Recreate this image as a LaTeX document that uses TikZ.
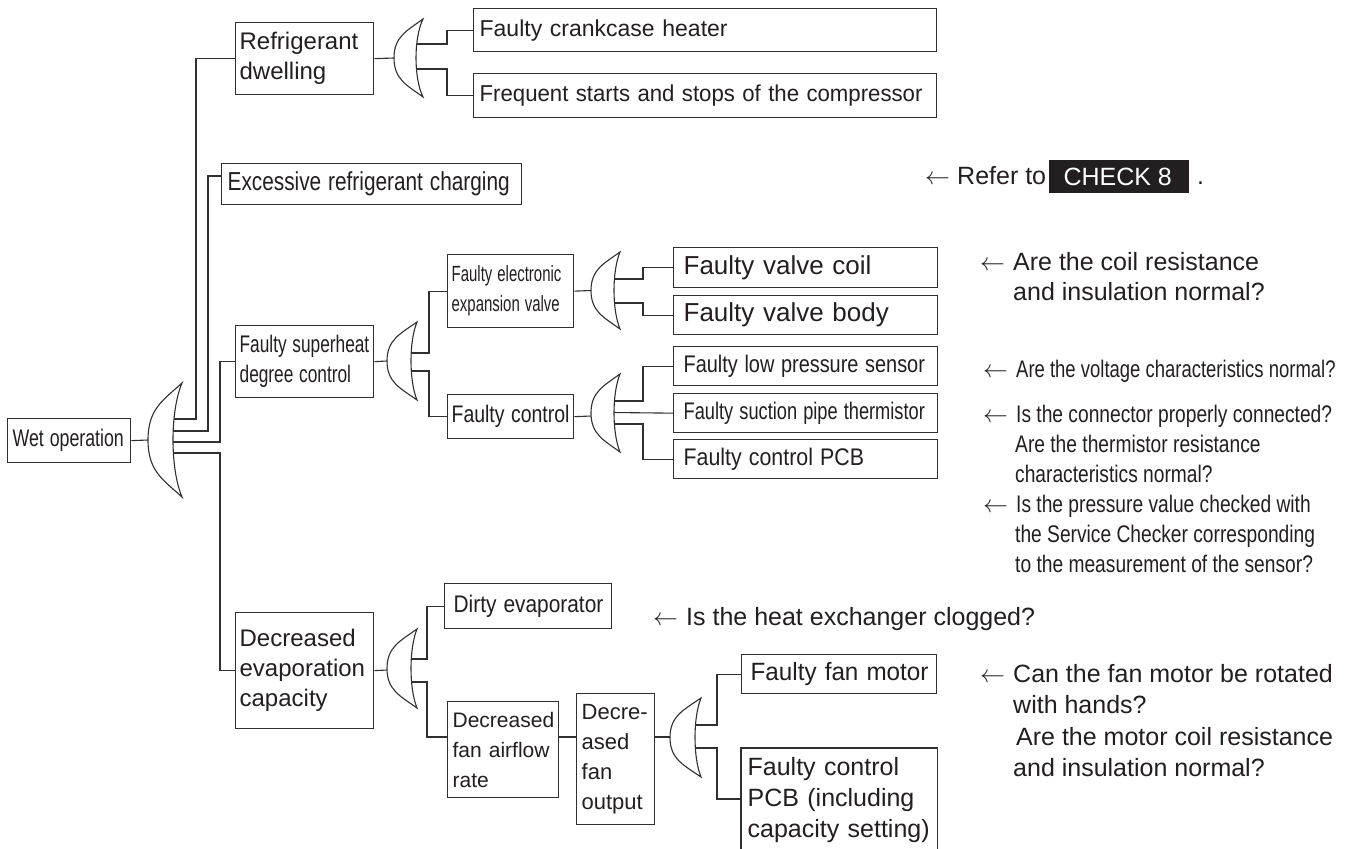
\documentclass[tikz,border=0pt]{standalone}
\usepackage{fontspec}
\setmainfont{Liberation Sans}
\usepackage{graphicx}
\definecolor{ink}{HTML}{231F20}
\definecolor{edge}{HTML}{303030}
\newcommand\sx[2]{\scalebox{#1}[1]{#2}}
\newcommand\fz[2]{\fontsize{#1}{#2}\selectfont}
\newcommand\orgate[5]{% xl, xi, xt, yt, yb
  \pgfmathsetmacro\gym{(#4+#5)/2}%
  \pgfmathsetmacro\gh{(#5-#4)/2}%
  \pgfmathsetmacro\gw{#3-#1}%
  \pgfmathsetmacro\gc{#2-(#3-#2)/3}%
  \draw[gateline] (#3,#4) .. controls ({#3-0.55*\gw},{#4+0.3*\gh}) and (#1,{\gym-0.55*\gh}) .. (#1,\gym)
    .. controls (#1,{\gym+0.55*\gh}) and ({#3-0.55*\gw},{#5-0.3*\gh}) .. (#3,#5)
    .. controls (\gc,{\gym+0.5*\gh}) and (\gc,{\gym-0.5*\gh}) .. cycle;
}
\begin{document}
\begin{tikzpicture}[x=1pt,y=-1pt,
  bx/.style={draw=edge, line width=1.3pt, anchor=north west, inner xsep=5pt, inner ysep=0pt, align=left, text=ink},
  wire/.style={draw=edge, line width=1.1pt},
  gateline/.style={draw=edge, line width=1.1pt, fill=white, line join=miter},
  note/.style={anchor=base west, inner sep=0pt, text=ink},
]
\useasboundingbox[fill=white] (0,0) rectangle (1353,849);

% ---------- boxes ----------
\node[bx, text width=113pt, minimum height=44pt, font=\fz{24}{30}] (wet) at (7,418) {\sx{0.74}{Wet operation}};
\node[bx, inner xsep=4pt, text width=130pt, minimum height=72pt, font=\fz{24}{30}] (refd) at (235,22) {\mbox{Refrigerant}\\\mbox{dwelling}};
\node[bx, inner xsep=6pt, text width=451pt, minimum height=43pt, font=\fz{23}{28}] (crank) at (473,8) {\mbox{Faulty crankcase heater}};
\node[bx, inner xsep=6pt, text width=451pt, minimum height=44pt, font=\fz{23}{28}] (freq) at (473,73) {\sx{0.965}{Frequent starts and stops of the compressor}};
\node[bx, inner xsep=6pt, text width=288pt, minimum height=41pt, font=\fz{26}{30}] (exc) at (221,163) {\sx{0.8}{Excessive refrigerant charging}};
\node[bx, inner xsep=4pt, text width=130pt, minimum height=72pt, font=\fz{24}{30}] (sup) at (235,325) {\sx{0.72}{Faulty superheat}\\\sx{0.72}{degree control}};
\node[bx, inner xsep=4pt, text width=118pt, minimum height=73pt, font=\fz{22}{30}] (eev) at (447,254) {\sx{0.68}{Faulty electronic}\\\sx{0.68}{expansion valve}};
\node[bx, inner xsep=4pt, text width=118pt, minimum height=44pt, font=\fz{24}{30}] (fctl) at (447,394) {\sx{0.81}{Faulty control}};
\node[bx, inner xsep=10pt, text width=244pt, minimum height=40pt, font=\fz{26}{30}] (coil) at (673,247) {\mbox{Faulty valve coil}};
\node[bx, inner xsep=10pt, text width=244pt, minimum height=39pt, font=\fz{26}{30}] (body) at (673,295) {\mbox{Faulty valve body}};
\node[bx, inner xsep=10pt, text width=244pt, minimum height=39pt, font=\fz{24}{30}] (lps) at (673,346) {\sx{0.83}{Faulty low pressure sensor}};
\node[bx, inner xsep=10pt, text width=244pt, minimum height=39pt, font=\fz{24}{30}] (spt) at (673,393) {\sx{0.76}{Faulty suction pipe thermistor}};
\node[bx, inner xsep=10pt, text width=244pt, minimum height=39pt, font=\fz{24}{30}] (pcb) at (673,439) {\sx{0.89}{Faulty control PCB}};
\node[bx, inner xsep=4pt, text width=130pt, minimum height=116pt, font=\fz{24}{30}] (evap) at (235,612) {\mbox{Decreased}\\\mbox{evaporation}\\\mbox{capacity}};
\node[bx, inner xsep=9pt, text width=149pt, minimum height=45pt, font=\fz{24}{30}] (dirty) at (444,583) {\sx{0.87}{Dirty evaporator}};
\node[bx, inner xsep=5pt, text width=101pt, minimum height=96pt, font=\fz{21}{30}] (dfar) at (447,701) {\mbox{Decreased}\\\mbox{fan airflow}\\\mbox{rate}};
\node[bx, inner xsep=5pt, text width=68pt, minimum height=131pt, font=\fz{22}{30}] (dfo) at (576,693) {\mbox{Decre-}\\\mbox{ased}\\\mbox{fan}\\\mbox{output}};
\node[bx, inner xsep=9pt, text width=177pt, minimum height=39pt, font=\fz{25}{30}] (fan) at (741,654) {\sx{0.97}{Faulty fan motor}};
\node[bx, draw=none, inner xsep=6pt, inner ysep=9pt, text width=183pt, font=\fz{25}{31}] (fpcb) at (741,748) {\mbox{Faulty control}\\\mbox{PCB (including}\\\mbox{capacity setting)}};
\coordinate (bottom) at (0,849);
\draw[draw=edge, line width=1.3pt] (fpcb.north west |- bottom) -- (fpcb.north west) -- (fpcb.north east) -- (fpcb.north east |- bottom);

% ---------- gate ports ----------
\coordinate (g1in) at (148,440);
\coordinate (g1a) at (171,419); \coordinate (g1b) at (171,431);
\coordinate (g1c) at (171,442); \coordinate (g1d) at (171,453);
\coordinate (g2in) at (394,58);
\coordinate (g2a) at (414,44); \coordinate (g2b) at (414,69);
\coordinate (g3in) at (387,361);
\coordinate (g3a) at (409,353); \coordinate (g3b) at (409,371);
\coordinate (g4in) at (591,290.5);
\coordinate (g4a) at (612,279); \coordinate (g4b) at (612,303);
\coordinate (g5in) at (591,416);
\coordinate (g5a) at (612,401); \coordinate (g5b) at (612,412.5); \coordinate (g5c) at (612,424);
\coordinate (g6in) at (387,670);
\coordinate (g6a) at (409,659); \coordinate (g6b) at (409,682);
\coordinate (g7in) at (670,737);
\coordinate (g7a) at (693,725); \coordinate (g7b) at (693,748);
% bus lines
\coordinate (b1) at (196,0); \coordinate (b2) at (208,0); \coordinate (b3) at (220,0);
\coordinate (b4) at (447,0); \coordinate (b5) at (429,0); \coordinate (b6) at (643,0);
\coordinate (b7) at (427,0); \coordinate (b8) at (717,0);
\coordinate (y176) at (0,176); \coordinate (y737) at (0,737); \coordinate (y799) at (0,799);

% ---------- connectors ----------
\draw[wire] (wet.east) -- (g1in);
\draw[wire] (g1a) -- (g1a -| b1) |- (refd.west);
\draw[wire] (g1b) -- (g1b -| b2) |- (exc.west |- y176);
\draw[wire] (g1c) -- (g1c -| b3) |- (sup.west);
\draw[wire] (g1d) -- (g1d -| b3) |- (evap.west);
\draw[wire] (refd.east) -- (g2in);
\draw[wire] (g2a) -- (g2a -| b4) |- (crank.west);
\draw[wire] (g2b) -- (g2b -| b4) |- (freq.west);
\draw[wire] (sup.east) -- (g3in);
\draw[wire] (g3a) -- (g3a -| b5) |- (eev.west);
\draw[wire] (g3b) -- (g3b -| b5) |- (fctl.west);
\draw[wire] (eev.east) -- (g4in);
\draw[wire] (g4a) -- (g4a -| b6) |- (coil.west);
\draw[wire] (g4b) -- (g4b -| b6) |- (body.west);
\draw[wire] (fctl.east) -- (g5in);
\draw[wire] (g5a) -- (g5a -| b6) |- (lps.west);
\draw[wire] (g5b) -- (spt.west);
\draw[wire] (g5c) -- (g5c -| b6) |- (pcb.west);
\draw[wire] (evap.east) -- (g6in);
\draw[wire] (g6a) -- (g6a -| b7) |- (dirty.west);
\draw[wire] (g6b) -- (g6b -| b7) |- (dfar.west |- y737);
\draw[wire] (dfar.east |- y737) -- (dfo.west |- y737);
\draw[wire] (dfo.east |- y737) -- (g7in);
\draw[wire] (g7a) -- (g7a -| b8) |- (fan.west);
\draw[wire] (g7b) -- (g7b -| b8) |- (fpcb.west |- y799);

% ---------- OR gates ----------
\orgate{148}{173}{182}{383}{497}
\orgate{394}{416}{423}{19}{97}
\orgate{387}{411}{417}{322}{400}
\orgate{591}{614}{620}{252}{329}
\orgate{591}{614}{620}{374}{452}
\orgate{387}{411}{417}{629}{708}
\orgate{670}{695}{701}{698}{777}

% ---------- notes ----------
\node[note, font=\fz{25}{30}] (r0) at (925,184) {$\leftarrow$};
\node[note, font=\fz{25}{30}] (r1) at (957,184) {Refer to};
\node[fill=ink, text=white, anchor=north west, minimum width=140pt, minimum height=33pt, inner sep=0pt, font=\fz{25}{30}] (chk) at (1049,160) {\hspace*{-3pt}CHECK 8};
\node[note, font=\fz{25}{30}] (r2) at (1197,184) {.};

\node[note, font=\fz{25}{30}] (a1) at (980,270) {$\leftarrow$};
\node[note, font=\fz{25}{30}] (q1a) at (1013,270) {Are the coil resistance};
\node[note, font=\fz{25}{30}] (q1b) at (1013,300) {and insulation normal?};

\node[note, font=\fz{24}{30}] (a2) at (983,377) {$\leftarrow$};
\node[note, font=\fz{24}{30}] (q2a) at (1016,377) {\sx{0.77}{Are the voltage characteristics normal?}};

\node[note, font=\fz{24}{30}] (a3) at (983,422) {$\leftarrow$};
\node[note, font=\fz{24}{30}] (q3a) at (1016,422) {\sx{0.8}{Is the connector properly connected?}};
\node[note, font=\fz{24}{30}] (q3b) at (1015,452) {\sx{0.8}{Are the thermistor resistance}};
\node[note, font=\fz{24}{30}] (q3c) at (1015,482) {\sx{0.8}{characteristics normal?}};

\node[note, font=\fz{24}{30}] (a4) at (983,512) {$\leftarrow$};
\node[note, font=\fz{24}{30}] (q4a) at (1016,512) {\sx{0.8}{Is the pressure value checked with}};
\node[note, font=\fz{24}{30}] (q4b) at (1015,542) {\sx{0.8}{the Service Checker corresponding}};
\node[note, font=\fz{24}{30}] (q4c) at (1015,572) {\sx{0.8}{to the measurement of the sensor?}};

\node[note, font=\fz{25}{30}] (a5) at (653,625) {$\leftarrow$};
\node[note, font=\fz{25}{30}] (q5a) at (686,625) {Is the heat exchanger clogged?};

\node[note, font=\fz{25}{30}] (a6) at (980,682) {$\leftarrow$};
\node[note, font=\fz{25}{30}] (q6a) at (1013,682) {Can the fan motor be rotated};
\node[note, font=\fz{25}{30}] (q6b) at (1013,713) {with hands?};
\node[note, font=\fz{25}{30}] (q6c) at (1016,745) {Are the motor coil resistance};
\node[note, font=\fz{25}{30}] (q6d) at (1013,776) {and insulation normal?};
\end{tikzpicture}
\end{document}
